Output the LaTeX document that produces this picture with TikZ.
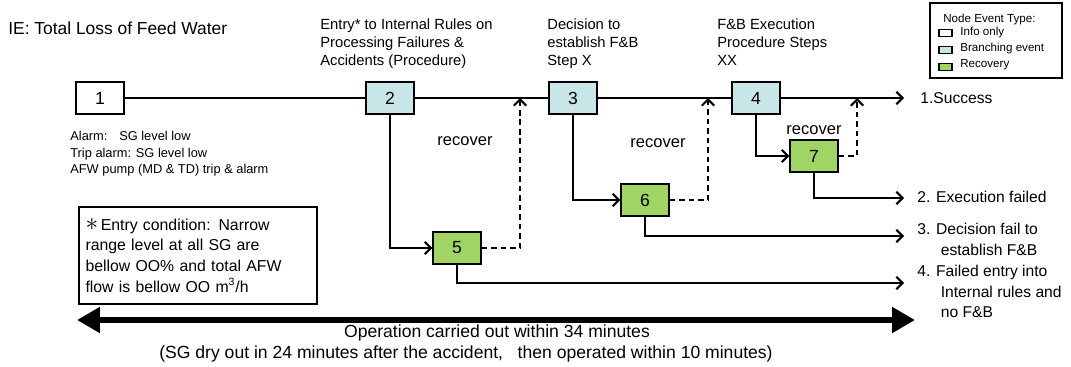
\documentclass[tikz,border=0pt]{standalone}
\usepackage{fontspec}
\setmainfont{Liberation Sans}
\usetikzlibrary{arrows.meta}
\definecolor{branchblue}{RGB}{200,229,232}
\definecolor{recovgreen}{RGB}{160,212,100}
\tikzstyle{event}=[rectangle,draw,line width=0.8pt,minimum width=0.96cm,minimum height=0.64cm,inner sep=0pt,font=\fontsize{10}{12}\selectfont]
\tikzstyle{info}=[event,fill=white]
\tikzstyle{branch}=[event,fill=branchblue]
\tikzstyle{recov}=[event,fill=recovgreen]
\tikzstyle{swatch}=[rectangle,draw,line width=0.6pt,minimum width=0.26cm,minimum height=0.14cm,inner sep=0pt]
\tikzstyle{edge}=[draw,line width=0.8pt,-{Straight Barb[length=3.5pt,width=7pt,line width=1.2pt]}]
\tikzstyle{plain}=[draw,line width=0.8pt,-]
\tikzstyle{back}=[edge,dash pattern=on 3.2pt off 2.2pt]
\tikzstyle{header}=[anchor=north west,align=left,inner sep=0pt,font=\fontsize{8.4}{10.5}\selectfont]
\tikzstyle{outcome}=[anchor=west,align=left,inner sep=0pt,font=\fontsize{8.9}{11.7}\selectfont]
\tikzstyle{legendtext}=[anchor=west,inner sep=0pt,font=\fontsize{6.6}{7}\selectfont]
\tikzstyle{weight}=[font=\fontsize{9.4}{10}\selectfont]

\begin{document}
\begin{tikzpicture}[x=0.02cm,y=-0.02cm]
        \useasboundingbox (0,0) rectangle (1071,366);
        % title and headers
        \node[anchor=west,inner sep=0pt,font=\fontsize{9.9}{12}\selectfont] (title) at (8,28) {IE: Total Loss of Feed Water};
        \node[header] (h2) at (320,18) {Entry* to Internal Rules on\\Processing Failures \&\\Accidents (Procedure)};
        \node[header] (h3) at (547,18) {Decision to\\establish F\&B\\Step X};
        \node[header] (h4) at (717,18) {F\&B Execution\\Procedure Steps\\XX};
        % legend
        \node[draw,line width=0.8pt,minimum width=2.64cm,minimum height=1.5cm] (legend) at (996,40.5) {};
        \node[legendtext] (lgtitle) at (943,19) {Node Event Type:};
        \node[swatch,fill=white] (sw1) at (945.5,33) {};
        \node[swatch,fill=branchblue] (sw2) at (945.5,50) {};
        \node[swatch,fill=recovgreen] (sw3) at (945.5,67) {};
        \node[legendtext] (lg1) at (960,32) {Info only};
        \node[legendtext] (lg2) at (960,48) {Branching event};
        \node[legendtext] (lg3) at (960,65) {Recovery};
        % event nodes
        \node[info] (1) at (100,98) {1};
        \node[branch] (2) at (390,98) {2};
        \node[branch] (3) at (573,98) {3};
        \node[branch] (4) at (756,98) {4};
        \node[recov] (5) at (457,248) {5};
        \node[recov] (6) at (645,200) {6};
        \node[recov] (7) at (814,156) {7};
        % recovery return points and outcome ends
        \coordinate (r5) at (520,98);
        \coordinate (r6) at (708,98);
        \coordinate (r7) at (857,98);
        \coordinate (e1) at (904,98);
        \coordinate (e2) at (904,198);
        \coordinate (e3) at (904,236);
        \coordinate (e4) at (904,283);
        \node[outcome] (o1) at (920,98) {1.Success};
        \node[outcome] (o2) at (917,197) {2. Execution failed};
        \node[outcome,anchor=north west] (o3) at (917,223) {3. Decision fail to\\\hspace*{1.5em}establish F\&B};
        \node[outcome,anchor=north west] (o4) at (917,265) {4. Failed entry into\\\hspace*{1.5em}Internal rules and\\\hspace*{1.5em}no F\&B};
        % main sequence
        \path[plain] (1) -- (2);
        \path[plain] (2) -- (3);
        \path[plain] (3) -- (4);
        \path[edge] (4) -- (e1);
        % branches
        \path[edge] (2.south) |- (5.west);
        \path[edge] (3.south) |- (6.west);
        \path[edge] (4.south) |- (7.west);
        \path[back] (5.east) -| (r5);
        \path[back] (6.east) -| (r6);
        \path[back] (7.east) -| (r7);
        \path[edge] (7.south) |- (e2);
        \path[edge] (6.south) |- (e3);
        \path[edge] (5.south) |- (e4);
        \node[weight] (rc5) at (465,141) {recover};
        \node[weight] (rc6) at (658,143) {recover};
        \node[weight] (rc7) at (814,130) {recover};
        % notes
        \node[anchor=north west,align=left,inner sep=0pt,font=\fontsize{7.3}{9.4}\selectfont] (alarms) at (70,131) {Alarm:~~ SG level low\\Trip alarm: SG level low\\AFW pump (MD \& TD) trip \& alarm};
        \node[draw,line width=0.8pt,minimum width=4.76cm,minimum height=1.94cm,text width=4.5cm,align=left,inner sep=0pt,font=\fontsize{9}{11.8}\selectfont] (entry) at (198,255.5) {{\Large$\ast$}\,Entry condition: Narrow\\range level at all SG are\\bellow OO\% and total AFW\\flow is bellow OO m\textsuperscript{3}/h};
        % time span
        \coordinate (tl) at (77,320);
        \coordinate (tr) at (915,320);
        \path[draw,line width=3.4pt,{Triangle[length=13pt,width=14pt]}-{Triangle[length=13pt,width=14pt]}] (tl) -- (tr);
        \node[font=\fontsize{10}{11}\selectfont] (span1) at (497,333) {Operation carried out within 34 minutes};
        \node[font=\fontsize{10}{11}\selectfont] (span2) at (466,354) {(SG dry out in 24 minutes after the accident,~~ then operated within 10 minutes)};
    \end{tikzpicture}
\end{document}
